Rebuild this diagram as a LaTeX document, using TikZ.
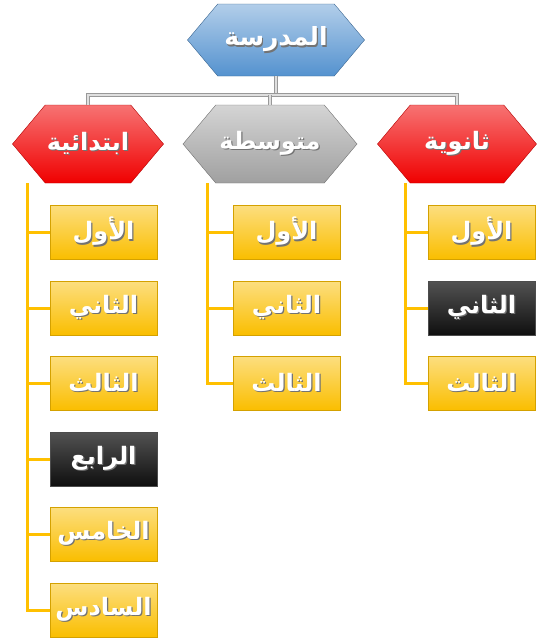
\documentclass[tikz,border=0pt]{standalone}
\usepackage{fontspec}
\newfontfamily\arabicfont[Script=Arabic]{DejaVu Sans}
\TeXXeTstate=1
\usepackage{tikz}
\usetikzlibrary{shapes.symbols}
\definecolor{schoolblue}{RGB}{84,146,207}
\definecolor{stagered}{RGB}{240,0,0}
\definecolor{stagegray}{RGB}{160,160,160}
\definecolor{classgold}{RGB}{250,190,0}
\definecolor{classdark}{RGB}{15,15,15}
\definecolor{linegold}{RGB}{255,192,0}
% white text with a soft dark shadow
\newcommand{\artext}[1]{\arabicfont\bfseries%
  \rlap{\hspace{1.2pt}\raisebox{-1.2pt}{\color{black!55}\beginR #1\endR}}\beginR #1\endR}

\begin{document}
\begin{tikzpicture}[x = 1pt, y = -1pt,
  hexa/.style = {shape = signal, signal to = west and east, signal pointer angle = 100,
    inner sep = 0pt, text = white, font = \fontsize{24}{28}\selectfont},
  classbox/.style = {rectangle, minimum width = 107, minimum height = 54, inner sep = 0pt,
    draw = classgold!85!black, line width = 0.8pt, top color = classgold!50!white, bottom color = classgold,
    text = white, font = \fontsize{24}{28}\selectfont},
  darkbox/.style = {classbox, draw = black!70, top color = classdark!72!white, bottom color = classdark},
  grayline/.style = {draw = gray!80, double = gray!25, double distance = 2pt, line width = 0.8pt},
  goldline/.style = {draw = linegold, line width = 3pt}]
\useasboundingbox (0,0) rectangle (539,640);

% top level
\node[hexa, minimum width = 177, minimum height = 72, draw = schoolblue!70!black,
  top color = schoolblue!45!white, bottom color = schoolblue,
  font = \fontsize{25}{29}\selectfont] (school) at (276,40) {\artext{المدرسة}};

% stages
\node[hexa, minimum width = 151, minimum height = 78, draw = stagered!75!black,
  top color = stagered!55!white, bottom color = stagered] (prim) at (88,144) {\artext{ابتدائية}};
\node[hexa, minimum width = 174, minimum height = 78, draw = stagegray!70!black,
  top color = stagegray!45!white, bottom color = stagegray] (mid) at (270,144) {\artext{متوسطة}};
\node[hexa, minimum width = 159, minimum height = 78, draw = stagered!75!black,
  top color = stagered!55!white, bottom color = stagered] (sec) at (457,144) {\artext{ثانوية}};

\coordinate (bus) at (276,95);
\draw[grayline] (school.south) -- (bus);
\draw[grayline] (prim.north) |- (bus) -| (sec.north);
\draw[grayline] (mid.north) -- (mid.north |- bus);

% classes, primary
\node[classbox] (p1) at (103.5,232) {\artext{الأول}};
\node[classbox] (p2) at (103.5,308) {\artext{الثاني}};
\node[classbox] (p3) at (103.5,383) {\artext{الثالث}};
\node[darkbox]  (p4) at (103.5,459) {\artext{الرابع}};
\node[classbox] (p5) at (103.5,534) {\artext{الخامس}};
\node[classbox] (p6) at (103.5,610) {\artext{السادس}};

% classes, middle
\node[classbox] (m1) at (286.5,232) {\artext{الأول}};
\node[classbox] (m2) at (286.5,308) {\artext{الثاني}};
\node[classbox] (m3) at (286.5,383) {\artext{الثالث}};

% classes, secondary
\node[classbox] (s1) at (481.5,232) {\artext{الأول}};
\node[darkbox]  (s2) at (481.5,308) {\artext{الثاني}};
\node[classbox] (s3) at (481.5,383) {\artext{الثالث}};

\coordinate (pl) at (27,183);
\coordinate (ml) at (207,183);
\coordinate (sl) at (405,183);
\draw[goldline] (pl) |- (p6.west);
\foreach \b in {p1,p2,p3,p4,p5}
  \draw[goldline] (pl |- \b.west) -- (\b.west);
\draw[goldline] (ml) |- (m3.west);
\foreach \b in {m1,m2}
  \draw[goldline] (ml |- \b.west) -- (\b.west);
\draw[goldline] (sl) |- (s3.west);
\foreach \b in {s1,s2}
  \draw[goldline] (sl |- \b.west) -- (\b.west);
\end{tikzpicture}
\end{document}
